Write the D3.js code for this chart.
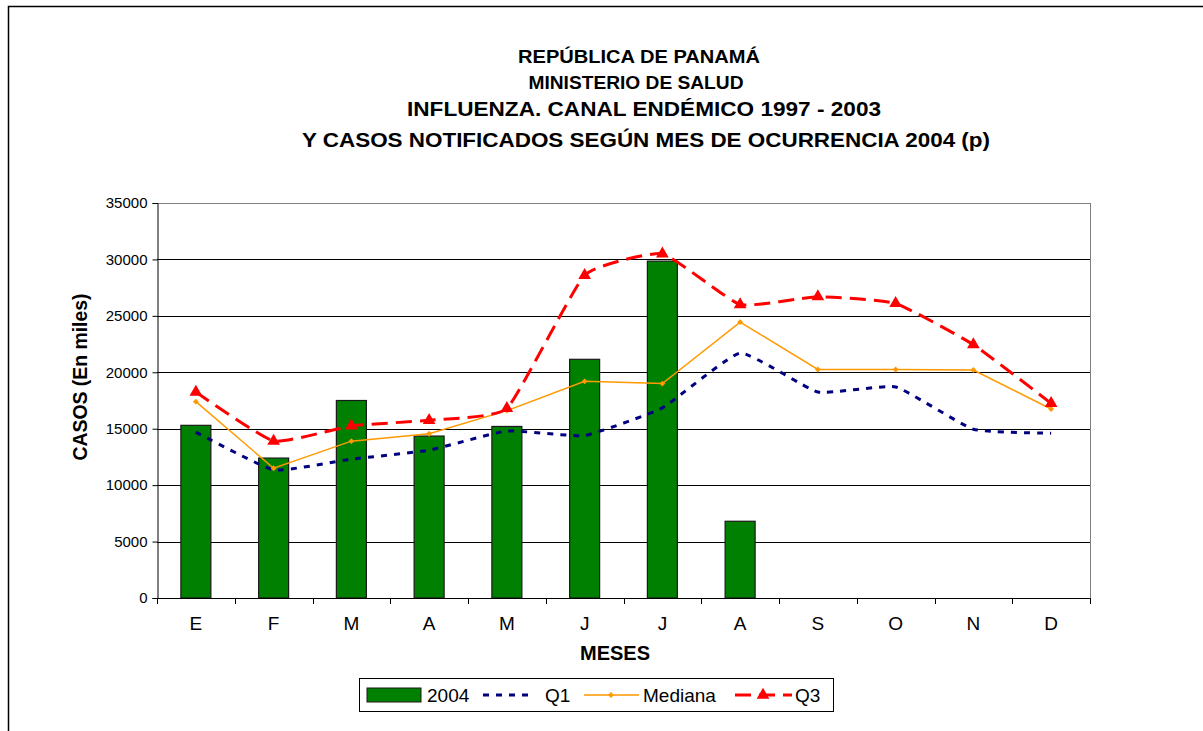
<!DOCTYPE html>
<html lang="es">
<head>
  <meta charset="UTF-8">
  <title>Influenza canal endémico</title>
  <style>
    body { margin: 0; background: #fff; }
    svg { display: block; font-family: 'Liberation Sans', Arial, sans-serif; }
  </style>
</head>
<body>
  <svg id="svg" width="1203" height="731"></svg>

  <script src="https://d3js.org/d3.v7.min.js"></script>
  <script>
    // data
    const meses = ['E', 'F', 'M', 'A', 'M', 'J', 'J', 'A', 'S', 'O', 'N', 'D']
    const casos2004 = [15300, 12400, 17500, 14350, 15200, 21150, 29850, 6800, null, null, null, null]
    const q1 = [14700, 11350, 12300, 13100, 14800, 14400, 16850, 21700, 18250, 18700, 14950, 14600]
    const mediana = [17400, 11500, 13900, 14550, 16600, 19200, 19000, 24450, 20250, 20250, 20200, 16750]
    const q3 = [18250, 13900, 15250, 15750, 16800, 28600, 30500, 26000, 26700, 26100, 22450, 17250]
    const yTicks = [0, 5000, 10000, 15000, 20000, 25000, 30000, 35000]
    const titulos = [
      'REPÚBLICA DE PANAMÁ',
      'MINISTERIO DE SALUD',
      'INFLUENZA. CANAL ENDÉMICO 1997 - 2003',
      'Y CASOS NOTIFICADOS SEGÚN MES DE OCURRENCIA 2004 (p)'
    ]

    const svg = d3.select('#svg')
    const plotL = 157, plotR = 1090, plotT = 203, plotB = 598

    // outer chart frame
    svg.append('path')
      .attr('d', 'M8.5,731 L8.5,6.5 L1210,6.5')
      .attr('fill', 'none')
      .attr('stroke', '#000')
      .attr('stroke-width', 1.5)

    // titles (condensed bold, squeezed to width)
    const titleRows = [
      { x: 639, y: 63, size: 18, w: 242 },
      { x: 636, y: 89, size: 18, w: 215 },
      { x: 644, y: 116, size: 21, w: 474 },
      { x: 646, y: 147, size: 21, w: 688 }
    ]
    svg.append('g').selectAll('text')
      .data(titulos)
      .enter()
      .append('text')
      .attr('x', (d, i) => titleRows[i].x)
      .attr('y', (d, i) => titleRows[i].y)
      .attr('text-anchor', 'middle')
      .attr('font-weight', 'bold')
      .attr('font-size', (d, i) => titleRows[i].size)
      .attr('textLength', (d, i) => titleRows[i].w)
      .attr('lengthAdjust', 'spacingAndGlyphs')
      .text(d => d)

    const x = d3.scaleBand()
      .domain(d3.range(meses.length))
      .range([plotL, plotR])

    const y = d3.scaleLinear()
      .domain([0, 35000])
      .range([plotB, plotT])

    // gridlines
    svg.append('g').selectAll('line')
      .data(yTicks.slice(1))
      .enter()
      .append('line')
      .attr('x1', plotL)
      .attr('x2', plotR)
      .attr('y1', d => Math.round(y(d)) + 0.5)
      .attr('y2', d => Math.round(y(d)) + 0.5)
      .attr('stroke', d => d === 35000 ? '#808080' : '#000')
      .attr('stroke-width', 1)

    // right border of plot area
    svg.append('line')
      .attr('x1', plotR + 0.5).attr('x2', plotR + 0.5)
      .attr('y1', plotT).attr('y2', plotB)
      .attr('stroke', '#808080')

    // bars
    const barW = 30
    svg.append('g').selectAll('rect')
      .data(casos2004.map((v, i) => ({ i, v })).filter(d => d.v != null))
      .enter()
      .append('rect')
      .attr('x', d => x(d.i) + x.bandwidth() / 2 - barW / 2)
      .attr('y', d => y(d.v))
      .attr('width', barW)
      .attr('height', d => plotB - y(d.v))
      .attr('fill', '#008000')
      .attr('stroke', '#1a1a1a')
      .attr('stroke-width', 1.2)

    const cx = i => x(i) + x.bandwidth() / 2

    // Q1 dotted smoothed line
    const smooth = d3.line()
      .x((d, i) => cx(i))
      .y(d => y(d))
      .curve(d3.curveCardinal.tension(0.6))

    svg.append('path')
      .datum(q1)
      .attr('d', smooth)
      .attr('fill', 'none')
      .attr('stroke', '#000080')
      .attr('stroke-width', 3)
      .attr('stroke-dasharray', '6,7')

    // mediana
    const straight = d3.line()
      .x((d, i) => cx(i))
      .y(d => y(d))

    svg.append('path')
      .datum(mediana)
      .attr('d', straight)
      .attr('fill', 'none')
      .attr('stroke', '#FF9900')
      .attr('stroke-width', 1.5)

    svg.append('g').selectAll('path')
      .data(mediana)
      .enter()
      .append('path')
      .attr('d', d3.symbol(d3.symbolDiamond2, 22))
      .attr('transform', (d, i) => `translate(${cx(i)},${y(d)})`)
      .attr('fill', '#FF9900')

    // Q3 dashed smoothed line
    svg.append('path')
      .datum(q3)
      .attr('d', smooth)
      .attr('fill', 'none')
      .attr('stroke', '#FF0000')
      .attr('stroke-width', 3)
      .attr('stroke-dasharray', '16,8')

    svg.append('g').selectAll('path')
      .data(q3)
      .enter()
      .append('path')
      .attr('d', d3.symbol(d3.symbolTriangle, 70))
      .attr('transform', (d, i) => `translate(${cx(i)},${y(d)})`)
      .attr('fill', '#FF0000')

    // left axis
    const leftAxis = d3.axisLeft(y)
      .tickValues(yTicks)
      .tickSize(5)
      .tickPadding(5)
      .tickFormat(d3.format('d'))

    svg.append('g')
      .attr('transform', `translate(${plotL + 0.5}, 0)`)
      .call(leftAxis)
      .call(g => g.select('.domain').attr('stroke', '#000'))
      .call(g => g.selectAll('text').attr('font-size', 15).attr('fill', '#000').attr('font-family', null))

    // bottom axis
    const bottomAxis = d3.axisBottom(x)
      .tickSize(0)
      .tickPadding(18)
      .tickFormat(i => meses[i])

    svg.append('g')
      .attr('transform', `translate(0, ${plotB + 0.5})`)
      .call(bottomAxis)
      .call(g => g.select('.domain').attr('d', `M${plotL},0H${plotR}`).attr('stroke', '#000'))
      .call(g => g.selectAll('text').attr('font-size', 19).attr('fill', '#000').attr('font-family', null))

    svg.append('g').selectAll('line')
      .data(d3.range(meses.length + 1))
      .enter()
      .append('line')
      .attr('x1', i => Math.round(plotL + i * x.bandwidth()) + 0.5)
      .attr('x2', i => Math.round(plotL + i * x.bandwidth()) + 0.5)
      .attr('y1', plotB)
      .attr('y2', plotB + 6)
      .attr('stroke', '#000')

    // axis titles
    svg.append('text')
      .attr('transform', 'translate(87, 377) rotate(-90)')
      .attr('text-anchor', 'middle')
      .attr('font-weight', 'bold')
      .attr('font-size', 19.5)
      .attr('textLength', 167)
      .attr('lengthAdjust', 'spacingAndGlyphs')
      .text('CASOS (En miles)')

    svg.append('text')
      .attr('x', 615)
      .attr('y', 660)
      .attr('text-anchor', 'middle')
      .attr('font-weight', 'bold')
      .attr('font-size', 20)
      .text('MESES')

    // legend
    const lg = svg.append('g')
    lg.append('rect')
      .attr('x', 359.5).attr('y', 678.5)
      .attr('width', 474).attr('height', 33)
      .attr('fill', '#fff')
      .attr('stroke', '#000')
    lg.append('rect')
      .attr('x', 367).attr('y', 688)
      .attr('width', 54).attr('height', 14)
      .attr('fill', '#008000')
      .attr('stroke', '#1a1a1a')
    lg.append('line')
      .attr('x1', 483).attr('x2', 535).attr('y1', 695).attr('y2', 695)
      .attr('stroke', '#000080').attr('stroke-width', 3).attr('stroke-dasharray', '6,7')
    lg.append('line')
      .attr('x1', 584).attr('x2', 639).attr('y1', 695).attr('y2', 695)
      .attr('stroke', '#FF9900').attr('stroke-width', 1.5)
    lg.append('path')
      .attr('d', d3.symbol(d3.symbolDiamond2, 22))
      .attr('transform', 'translate(611,695)')
      .attr('fill', '#FF9900')
    lg.append('line')
      .attr('x1', 735).attr('x2', 792).attr('y1', 695).attr('y2', 695)
      .attr('stroke', '#FF0000').attr('stroke-width', 3).attr('stroke-dasharray', '16,8')
    lg.append('path')
      .attr('d', d3.symbol(d3.symbolTriangle, 70))
      .attr('transform', 'translate(763,695)')
      .attr('fill', '#FF0000')

    const legendText = [['2004', 427], ['Q1', 545], ['Mediana', 643], ['Q3', 795]]
    lg.selectAll('text')
      .data(legendText)
      .enter()
      .append('text')
      .attr('x', d => d[1])
      .attr('y', 702)
      .attr('font-size', 19)
      .text(d => d[0])
  </script>
</body>
</html>
